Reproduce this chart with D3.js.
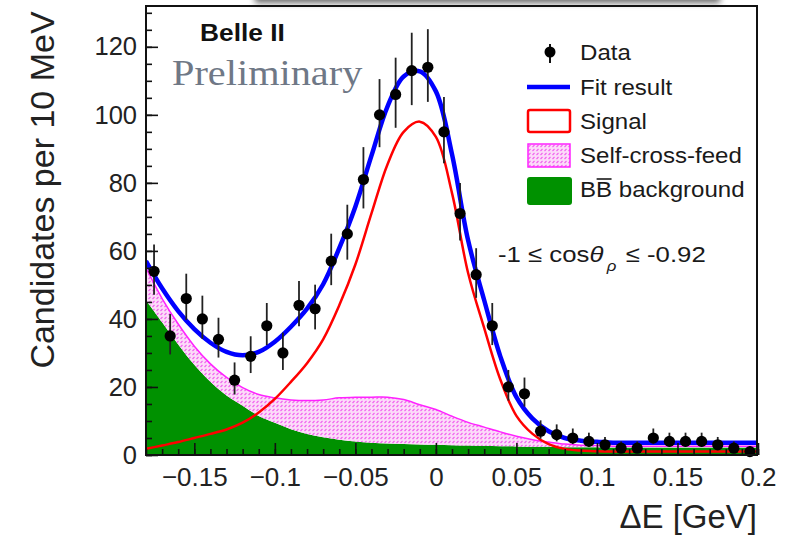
<!DOCTYPE html>
<html><head><meta charset="utf-8">
<script src="https://cdn.jsdelivr.net/npm/d3@7"></script>
<style>body{margin:0;background:#fff} svg{display:block}</style>
</head><body><svg id="c" width="802" height="538"></svg>
<script>
// ---- data ----
const binCenters = [-0.175,-0.165,-0.155,-0.145,-0.135,-0.125,-0.115,-0.105,-0.095,-0.085,-0.075,-0.065,-0.055,-0.045,-0.035,-0.025,-0.015,-0.005,0.005,0.015,0.025,0.035,0.045,0.055,0.065,0.075,0.085,0.095,0.105,0.115,0.125,0.135,0.145,0.155,0.165,0.175,0.185,0.195];
const dataCounts = [54,35,46,40,34,22,29,38,30,44,43,57,65,81,100,106,113,114,95,71,53,38,20,18,7,6,5,4,3,2,2,5,4,4,4,3,2,1];
const curveX = [-0.18,-0.17,-0.16,-0.15,-0.14,-0.13,-0.12,-0.11,-0.10,-0.09,-0.08,-0.07,-0.06,-0.05,-0.04,-0.03,-0.02,-0.01,0.00,0.01,0.02,0.03,0.04,0.05,0.06,0.07,0.08,0.09,0.10,0.11,0.12,0.13,0.14,0.15,0.16,0.17,0.18,0.19,0.20];
const bbBackground = [45.5,39,32.5,26.5,21.5,17.5,14.5,11.5,9.5,7.6,6.2,5.2,4.5,4.0,3.6,3.4,3.2,3.1,3.0,2.9,2.8,2.7,2.6,2.5,2.4,2.4,2.3,2.3,2.3,2.2,2.2,2.2,2.2,2.2,2.2,2.2,2.2,2.2,2.2];
const selfCrossFeed = [9.5,7,6,5.5,5.3,5.3,5.3,6.3,7.3,8.6,9.8,11,12.3,13,13.4,13.6,13.1,11.7,10.4,8.5,6.8,5.5,4.2,3.0,2.1,1.4,0.9,0.6,0.5,0.4,0.4,0.4,0.4,0.4,0.4,0.4,0.4,0.4,0.4];
const signal = [1.8,2.8,3.8,5.0,6.2,7.5,9.5,12.5,16.5,21.5,27,34,44,56,71,85.5,95,98,93.5,77,53.5,37.3,22.2,11.5,6.2,3.2,1.8,1.3,1.1,1.0,1.0,1.0,1.0,1.0,1.0,1.0,1.0,1.0,1.0];
const fitResult = [57,49,42.3,37,33,30.3,29.3,30.3,33.3,37.7,43,50.2,60.8,73,88,102.5,111.3,112.8,106.9,88.4,63.1,45.5,29,17,10.7,7,5,4.2,3.9,3.6,3.6,3.6,3.6,3.6,3.6,3.6,3.6,3.6,3.6];
const xTicks = [-0.15,-0.1,-0.05,0,0.05,0.1,0.15,0.2];
const yTicks = [0,20,40,60,80,100,120];
const legendLabels = ["Data","Fit result","Signal","Self-cross-feed","BB background"];

// ---- layout ----
const svg = d3.select("#c");
const L = 146, R = 757, T = 6, B = 455;
const x = d3.scaleLinear().domain([-0.18, 0.2]).range([L, R + 1]);
const y = d3.scaleLinear().domain([0, 132]).range([B, T]);
const FONT = "'Liberation Sans', Arial, Helvetica, sans-serif";

const defs = svg.append("defs");
defs.append("filter").attr("id","blur").attr("x","-20%").attr("y","-200%").attr("width","140%").attr("height","500%")
  .append("feGaussianBlur").attr("stdDeviation", 3);
const pat = defs.append("pattern").attr("id","hatch").attr("width",4).attr("height",4)
  .attr("patternUnits","userSpaceOnUse");
pat.append("rect").attr("width",4).attr("height",4).attr("fill","#fcdcf9");
pat.append("path").attr("d","M0.5,3 L2.5,1").attr("stroke","#f060ee").attr("stroke-width",1.1);
defs.append("clipPath").attr("id","clip").append("rect").attr("x",L).attr("y",T).attr("width",R-L).attr("height",B-T);

// top shadow
svg.append("rect").attr("x",255).attr("y",-10).attr("width",465).attr("height",13)
  .attr("fill","#6a6a6a").attr("filter","url(#blur)");

const plot = svg.append("g").attr("clip-path","url(#clip)");
const pts = curveX.map((v,i)=>({x:v, bb:bbBackground[i], scf:selfCrossFeed[i], sig:signal[i], fit:fitResult[i]}));
const cr = d3.curveCatmullRom.alpha(0.5);

plot.append("path").datum(pts).attr("fill","#009100")
  .attr("d", d3.area().curve(cr).x(d=>x(d.x)).y0(y(0)).y1(d=>y(d.bb)));
plot.append("path").datum(pts).attr("fill","url(#hatch)")
  .attr("d", d3.area().curve(cr).x(d=>x(d.x)).y0(d=>y(d.bb)).y1(d=>y(d.bb+d.scf)));
plot.append("path").datum(pts).attr("fill","none").attr("stroke","#ff22ff").attr("stroke-width",1.5)
  .attr("d", d3.line().curve(cr).x(d=>x(d.x)).y(d=>y(d.bb+d.scf)));
plot.append("path").datum(pts).attr("fill","none").attr("stroke","#ff0000").attr("stroke-width",2.5)
  .attr("d", d3.line().curve(cr).x(d=>x(d.x)).y(d=>y(d.sig)));
plot.append("path").datum(pts).attr("fill","none").attr("stroke","#0000ff").attr("stroke-width",4.5)
  .attr("d", d3.line().curve(cr).x(d=>x(d.x)).y(d=>y(d.fit)));

// data points with Poisson-like errors
const dataG = svg.append("g");
binCenters.forEach((c,i)=>{
  const n = dataCounts[i];
  const s = Math.sqrt(n + 0.25);
  dataG.append("line").attr("x1",x(c)).attr("x2",x(c))
    .attr("y1",y(n - (s - 0.5))).attr("y2",y(Math.min(n + s + 0.5, 132)))
    .attr("stroke","#222").attr("stroke-width",1.8);
  dataG.append("circle").attr("cx",x(c)).attr("cy",y(n)).attr("r",5.6).attr("fill","#000");
});

// axes
const fmt = d => d === 0 ? "0" : d3.format("~g")(d);
const xMinor = d3.range(-18, 21).map(k=>k/100);
svg.append("g").attr("transform",`translate(0,${B})`)
  .call(d3.axisBottom(x).tickValues(xMinor).tickSize(-6).tickFormat(""))
  .call(g=>g.select(".domain").remove())
  .call(g=>g.selectAll("line").attr("stroke","#111").attr("stroke-width",1.6));
svg.append("g").attr("transform",`translate(0,${B})`)
  .call(d3.axisBottom(x).tickValues(xTicks).tickSize(-12).tickPadding(13).tickFormat(fmt))
  .call(g=>g.select(".domain").remove())
  .call(g=>g.selectAll("line").attr("stroke","#111").attr("stroke-width",1.6))
  .call(g=>g.selectAll("text").attr("font-family",FONT).attr("font-size",26).attr("fill","#222"));
const yMinor = d3.range(0, 27).map(k=>k*5);
svg.append("g").attr("transform",`translate(${L},0)`)
  .call(d3.axisLeft(y).tickValues(yMinor).tickSize(-6).tickFormat(""))
  .call(g=>g.select(".domain").remove())
  .call(g=>g.selectAll("line").attr("stroke","#111").attr("stroke-width",1.6));
svg.append("g").attr("transform",`translate(${L},0)`)
  .call(d3.axisLeft(y).tickValues(yTicks).tickSize(-12).tickPadding(9).tickFormat(d3.format("d")))
  .call(g=>g.select(".domain").remove())
  .call(g=>g.selectAll("line").attr("stroke","#111").attr("stroke-width",1.6))
  .call(g=>g.selectAll("text").attr("font-family",FONT).attr("font-size",25.5).attr("fill","#222"));

// frame
svg.append("rect").attr("x",L).attr("y",T).attr("width",R-L).attr("height",B-T)
  .attr("fill","none").attr("stroke","#111").attr("stroke-width",2);

// axis titles
svg.append("text").attr("transform","translate(54,190) rotate(-90)").attr("text-anchor","middle")
  .attr("font-family",FONT).attr("font-size",34).attr("fill","#222").text("Candidates per 10 MeV");
svg.append("text").attr("x",757).attr("y",528).attr("text-anchor","end")
  .attr("font-family",FONT).attr("font-size",33).attr("fill","#222").text("\u0394E [GeV]");

// stretched text helper
function stext(px, py, size, str, opts = {}) {
  const t = svg.append("text").attr("transform",`translate(${px},${py}) scale(1.12,1)`)
    .attr("font-family", opts.family || FONT).attr("font-size", size)
    .attr("fill", opts.fill || "#1a1a1a").attr("font-weight", opts.weight || "normal");
  if (str !== null) t.text(str);
  return t;
}
stext(200, 41, 23.5, "Belle II", {weight:"bold", fill:"#111"});
stext(172, 85, 36, "Preliminary", {family:"'Liberation Serif', 'Times New Roman', serif", fill:"#6f7886"});

// annotation
const ann = stext(498, 262, 23, null);
ann.append("tspan").text("-1 \u2264 cos");
ann.append("tspan").attr("font-style","italic").text("\u03b8");
ann.append("tspan").attr("font-style","italic").attr("font-size",15).attr("dx",3).attr("dy",9).text("\u03c1");
ann.append("tspan").attr("dy",-9).attr("dx",2).text(" \u2264 -0.92");

// legend
const lgY = [52, 87, 121, 155, 189];
const lg = svg.append("g");
lg.append("line").attr("x1",550).attr("x2",550).attr("y1",44).attr("y2",63).attr("stroke","#111").attr("stroke-width",2);
lg.append("circle").attr("cx",550).attr("cy",lgY[0]).attr("r",5.5).attr("fill","#000");
lg.append("line").attr("x1",527).attr("x2",570).attr("y1",lgY[1]).attr("y2",lgY[1]).attr("stroke","#0000ff").attr("stroke-width",4.5);
lg.append("rect").attr("x",528).attr("y",110).attr("width",42).attr("height",22).attr("rx",2)
  .attr("fill","#fff").attr("stroke","#ff0000").attr("stroke-width",2.5);
lg.append("rect").attr("x",528).attr("y",144).attr("width",42).attr("height",23)
  .attr("fill","url(#hatch)").attr("stroke","#ff22ff").attr("stroke-width",1.5);
lg.append("rect").attr("x",527).attr("y",177).attr("width",45).attr("height",28).attr("rx",3)
  .attr("fill","#009100");
legendLabels.forEach((s,i)=>{
  if (i === 4) {
    const t = stext(580, lgY[i]+8, 21.5, null);
    t.append("tspan").text("B");
    t.append("tspan").text("B");
    t.append("tspan").text(" background");
    const node = t.node();
    const sx = node.getStartPositionOfChar(1).x, ex = node.getEndPositionOfChar(1).x;
    svg.append("line").attr("transform",`translate(580,${lgY[i]+8}) scale(1.12,1)`)
      .attr("x1",sx+0.5).attr("x2",ex-0.5).attr("y1",-18).attr("y2",-18)
      .attr("stroke","#1a1a1a").attr("stroke-width",1.6);
  } else {
    stext(580, lgY[i]+8, 21.5, s);
  }
});
</script></body></html>
